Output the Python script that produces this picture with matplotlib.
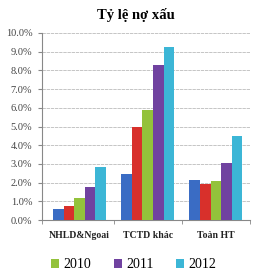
import numpy as np
import matplotlib.pyplot as plt

categories = ['NHLD&Ngoai', 'TCTD khác', 'Toàn HT']
series_names = ['2008', '2009', '2010', '2011', '2012']
v2008 = [0.60, 2.45, 2.15]
v2009 = [0.75, 5.00, 1.95]
v2010 = [1.15, 5.90, 2.10]
v2011 = [1.75, 8.30, 3.05]
v2012 = [2.85, 9.25, 4.50]
colors = ['#3a6cc4', '#d8302b', '#93c23b', '#7042a0', '#3cb6d6']

plt.rcParams['font.family'] = ['Liberation Serif', 'DejaVu Serif']

fig = plt.figure(figsize=(2.67, 2.79), dpi=100)
ax = fig.add_axes([42 / 267, 1 - 220 / 279, 208 / 267, 187 / 279])

index = np.arange(len(categories))
bar_width = 0.155
bars = []
for i, vals in enumerate([v2008, v2009, v2010, v2011, v2012]):
    b = ax.bar(index + (i - 2) * bar_width, vals, bar_width,
               color=colors[i], label=series_names[i], zorder=3)
    bars.append(b)

ax.set_xlim(-0.55, 2.5)
ax.set_ylim(0, 10)
ax.set_yticks(np.arange(0, 11, 1))
ax.set_yticklabels(['%.1f%%' % v for v in range(0, 11)], fontsize=7.5, color='#444444')
ax.set_xticks(index)
ax.set_xticklabels(categories, fontsize=7, fontweight='bold', color='#222222')
ax.set_xticks([-0.55, 0.5, 1.5, 2.5], minor=True)
ax.tick_params(axis='x', which='major', length=0, pad=8)
ax.tick_params(axis='x', which='minor', length=3, color='#888888')
ax.tick_params(axis='y', length=3, color='#888888', pad=4)
ax.grid(axis='y', color='#bbbbbb', linestyle=(0, (4, 1)), linewidth=0.6, zorder=0)
for s in ['top', 'right']:
    ax.spines[s].set_visible(False)
ax.spines['left'].set_color('#888888')
ax.spines['bottom'].set_color('#888888')

fig.text(0.51, 1 - 15 / 279, 'Tỷ lệ nợ xấu', ha='center', va='center',
         fontsize=10.5, fontweight='bold')

fig.legend([bars[2], bars[3], bars[4]], ['2010', '2011', '2012'],
           loc='center', bbox_to_anchor=(0.5, 1 - 265 / 279), ncol=3,
           frameon=False, fontsize=10, handlelength=0.6, handleheight=0.6,
           handletextpad=0.3, columnspacing=1.6)

fig.savefig('out.png', dpi=100)
